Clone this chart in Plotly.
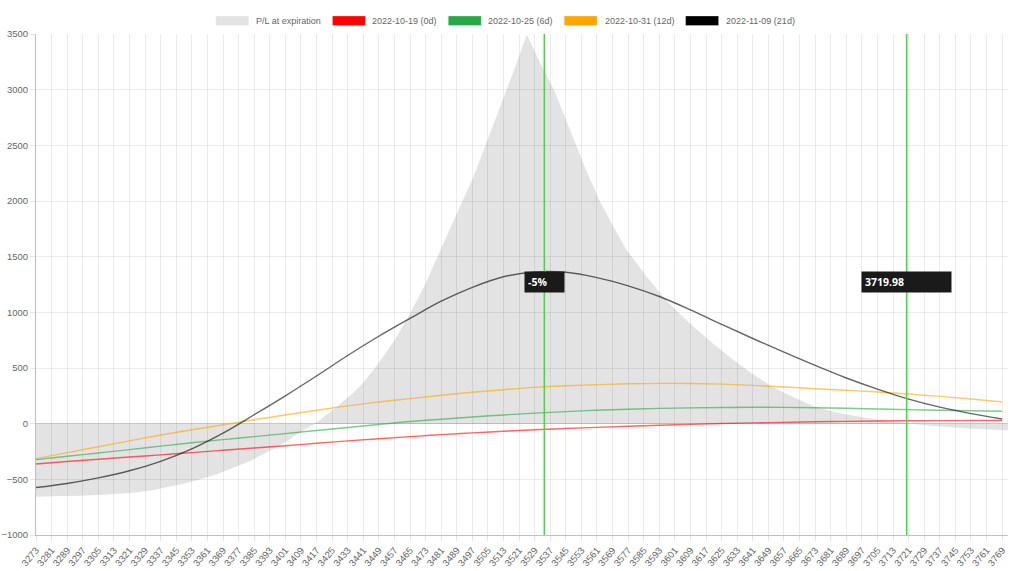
import plotly.graph_objects as go

# ---------------- data ----------------
tick_labels = [3273, 3281, 3289, 3297, 3305, 3313, 3321, 3329, 3337, 3345, 3353, 3361, 3369, 3377,
               3385, 3393, 3401, 3409, 3417, 3425, 3433, 3441, 3449, 3457, 3465, 3473, 3481, 3489,
               3497, 3505, 3513, 3521, 3529, 3537, 3545, 3553, 3561, 3569, 3577, 3585, 3593, 3601,
               3609, 3617, 3625, 3633, 3641, 3649, 3657, 3665, 3673, 3681, 3689, 3697, 3705, 3713,
               3721, 3729, 3737, 3745, 3753, 3761, 3769]

prices = [3273, 3289, 3305, 3321, 3337, 3353, 3369, 3385, 3401, 3417, 3433, 3449, 3465, 3481,
          3497, 3513, 3529, 3545, 3561, 3577, 3593, 3609, 3625, 3641, 3657, 3673, 3689, 3705,
          3721, 3737, 3753, 3769]

pl_0d = [-362, -340, -320, -300, -280, -260, -239, -218, -198, -176, -155, -135, -116, -98,
         -83, -68, -55, -44, -33, -23, -14, -6, 1, 7, 12, 17, 21, 24, 26, 27, 28, 29]

pl_6d = [-323, -293, -263, -233, -202, -171, -143, -116, -89, -62, -35, -8, 19, 40,
         60, 78, 95, 108, 121, 130, 137, 142, 145, 147, 146, 143, 138, 132, 126, 121, 116, 112]

pl_12d = [-314, -260, -207, -155, -102, -55, -10, 35, 78, 120, 160, 195, 225, 255,
          282, 305, 326, 340, 350, 358, 362, 361, 355, 344, 330, 314, 300, 285, 266, 245, 222, 195]

pl_21d = [-574, -537, -487, -423, -338, -226, -85, 80, 250, 428, 612, 785, 945, 1100,
          1225, 1320, 1362, 1360, 1312, 1238, 1142, 1022, 892, 765, 642, 523, 410, 310,
          220, 148, 90, 42]

exp_prices = [3273, 3285, 3297, 3310, 3323, 3332, 3340, 3349, 3357, 3366, 3374, 3383, 3391,
              3400, 3408, 3417, 3426, 3436, 3441, 3448, 3457, 3465, 3473, 3480, 3490, 3498,
              3505, 3513, 3519, 3525, 3532, 3539, 3548, 3555, 3562, 3569, 3576, 3586, 3596,
              3604, 3612, 3621, 3630, 3640, 3651, 3662, 3673, 3686, 3699, 3710, 3721, 3735,
              3750, 3772]
exp_pl = [-655, -652, -645, -634, -619, -598, -570, -538, -499, -452, -395, -332, -260,
          -175, -81, 9, 130, 278, 365, 520, 745, 985, 1255, 1536, 1922, 2230,
          2550, 2920, 3200, 3490, 3230, 2990, 2590, 2290, 2012, 1780, 1563, 1330, 1115,
          975, 846, 710, 585, 455, 330, 235, 150, 92, 50, 22, 2, -22,
          -40, -60]

spot = 3719.98
minus5 = 3533.98
label_level = 1276

series_names = ["2022-10-19 (0d)", "2022-10-25 (6d)", "2022-10-31 (12d)", "2022-11-09 (21d)"]
series_vals = [pl_0d, pl_6d, pl_12d, pl_21d]
line_colors = ["rgba(255,0,0,0.6)", "rgba(40,167,69,0.6)", "rgba(255,165,0,0.6)", "rgba(0,0,0,0.6)"]
legend_colors = ["#ff0000", "#28a745", "#ffa500", "#000000"]

# ---------------- figure ----------------
fig = go.Figure()

fig.add_trace(go.Scatter(
    x=exp_prices, y=exp_pl, mode="lines", name="P/L at expiration",
    line=dict(color="rgba(0,0,0,0.06)", width=0.5),
    fill="tozeroy", fillcolor="rgba(0,0,0,0.11)", showlegend=False, hoverinfo="skip"))

for name, vals, col in zip(series_names, series_vals, line_colors):
    fig.add_trace(go.Scatter(
        x=prices, y=vals, mode="lines", name=name,
        line=dict(color=col, width=1.4, shape="spline", smoothing=1.0),
        showlegend=False))

tick_font = dict(family="Liberation Sans, Arial, sans-serif", size=9.5, color="#666666")

fig.update_layout(
    width=1024, height=571,
    margin=dict(l=36, r=16, t=34, b=36),
    plot_bgcolor="white", paper_bgcolor="white",
    xaxis=dict(range=[3273, 3772], tickmode="array", tickvals=tick_labels,
               ticktext=[str(t) for t in tick_labels], tickangle=-50, tickfont=tick_font,
               showgrid=True, gridcolor="rgba(0,0,0,0.08)", gridwidth=1,
               ticks="outside", ticklen=5, tickcolor="rgba(0,0,0,0.1)",
               showline=True, linecolor="rgba(0,0,0,0.25)", linewidth=1,
               zeroline=False, automargin=False),
    yaxis=dict(range=[-1000, 3500], tickmode="linear", tick0=-1000, dtick=500,
               tickfont=tick_font, showgrid=True, gridcolor="rgba(0,0,0,0.08)",
               ticks="outside", ticklen=5, tickcolor="rgba(0,0,0,0.1)",
               showline=True, linecolor="rgba(0,0,0,0.25)", linewidth=1,
               zeroline=True, zerolinecolor="rgba(0,0,0,0.2)", zerolinewidth=1,
               automargin=False),
)

# vertical marker lines
for xv in (minus5, spot):
    fig.add_shape(type="line", xref="x", yref="paper", x0=xv, x1=xv, y0=0, y1=1,
                  line=dict(color="rgb(72,214,72)", width=1.6), layer="above")

# marker labels
label_font = dict(family="Open Sans, Liberation Sans, sans-serif", size=10.5, color="white")
fig.add_annotation(x=minus5, y=label_level, xref="x", yref="y", text="<b>-5%</b>",
                   showarrow=False, bgcolor="#1a1a1a", font=label_font,
                   width=33, height=14, align="left", borderpad=3)
fig.add_annotation(x=spot, y=label_level, xref="x", yref="y", text="<b>3719.98</b>",
                   showarrow=False, bgcolor="#1a1a1a", font=label_font,
                   width=83, height=14, align="left", borderpad=3)

# manual legend (boxes + labels) at the top; positions given in window pixels
PLOT_L, PLOT_R, PLOT_T, PLOT_B = 36, 1008, 34, 535

def px_x(p):
    return (p - PLOT_L) / float(PLOT_R - PLOT_L)

def px_y(p):
    return (PLOT_B - p) / float(PLOT_B - PLOT_T)

legend_items = [("P/L at expiration", "#e3e3e3", 215.8, 254.2),
                (series_names[0], legend_colors[0], 332.5, 370.0),
                (series_names[1], legend_colors[1], 448.3, 486.3),
                (series_names[2], legend_colors[2], 564.2, 602.5),
                (series_names[3], legend_colors[3], 685.6, 724.3)]
legend_font = dict(family="Liberation Sans, Arial, sans-serif", size=9, color="#666666")
for text, col, bx, tx in legend_items:
    fig.add_shape(type="rect", xref="paper", yref="paper",
                  x0=px_x(bx), x1=px_x(bx + 33), y0=px_y(25.5), y1=px_y(16),
                  fillcolor=col, line=dict(color="rgba(255,255,255,0.6)", width=0.5))
    fig.add_annotation(xref="paper", yref="paper", x=px_x(tx), y=px_y(20.8), text=text,
                       showarrow=False, xanchor="left", yanchor="middle", font=legend_font)

# remove the default page margin so the figure fills the 1024x571 window exactly
fig.write_html("out.html", config={"displayModeBar": False},
               post_script="document.body.style.margin='0';document.body.style.overflow='hidden';")
